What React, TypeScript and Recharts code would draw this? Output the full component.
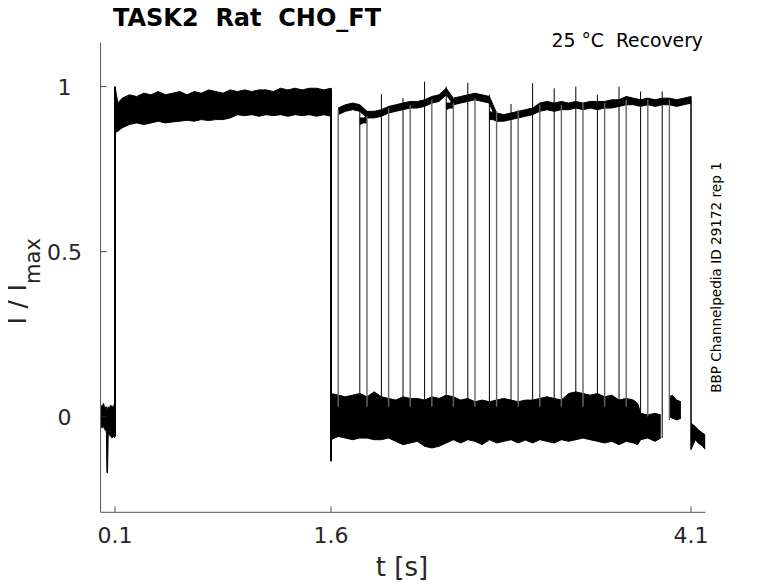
import React from 'react';
import { ComposedChart, Area, XAxis, YAxis, ReferenceLine } from 'recharts';

const xTicks = [0.1, 1.6, 4.1];
const yTicks = [0, 0.5, 1];

// [t, low, high] envelopes of the overlaid sweeps
const holding: [number, number, number][] = [
  [0, -0.02, 0.035], [0.01, -0.035, 0.03], [0.02, -0.03, 0.04], [0.03, -0.04, 0.025],
  [0.04, -0.045, 0.03], [0.044, -0.17, 0.02], [0.048, -0.17, 0.02], [0.053, -0.05, 0.03],
  [0.06, -0.055, 0.025], [0.07, -0.06, 0.035], [0.08, -0.065, 0.03], [0.09, -0.06, 0.03],
  [0.1, -0.065, 0.045],
];

const conditioning: [number, number, number][] = [
  [0.1, 0.86, 1.0], [0.12, 0.865, 0.95], [0.15, 0.875, 0.965], [0.2, 0.885, 0.975],
  [0.25, 0.89, 0.97], [0.3, 0.885, 0.98], [0.35, 0.89, 0.975], [0.4, 0.895, 0.985],
  [0.45, 0.89, 0.975], [0.5, 0.893, 0.98], [0.55, 0.895, 0.985], [0.6, 0.898, 0.975],
  [0.65, 0.895, 0.985], [0.7, 0.9, 0.98], [0.75, 0.897, 0.99], [0.8, 0.9, 0.985],
  [0.85, 0.9, 0.98], [0.9, 0.905, 0.99], [0.95, 0.915, 0.985], [1.0, 0.912, 0.99],
  [1.05, 0.915, 0.985], [1.1, 0.91, 0.99], [1.15, 0.915, 0.99], [1.2, 0.912, 0.985],
  [1.25, 0.915, 0.995], [1.3, 0.91, 0.99], [1.35, 0.915, 0.995], [1.4, 0.912, 0.99],
  [1.45, 0.915, 0.995], [1.5, 0.91, 0.995], [1.55, 0.915, 0.99], [1.6, 0.91, 0.995],
];

const testPulse: [number, number, number][] = [
  [1.65, 0.915, 0.935], [1.7, 0.925, 0.945], [1.75, 0.93, 0.95], [1.8, 0.925, 0.945],
  [1.85, 0.905, 0.925], [1.9, 0.905, 0.925], [1.95, 0.91, 0.93], [2.0, 0.92, 0.94],
  [2.05, 0.925, 0.945], [2.1, 0.93, 0.95], [2.15, 0.935, 0.955], [2.2, 0.935, 0.955],
  [2.25, 0.94, 0.96], [2.3, 0.95, 0.97], [2.35, 0.955, 0.975], [2.4, 0.975, 0.995],
  [2.45, 0.945, 0.965], [2.5, 0.95, 0.97], [2.55, 0.955, 0.975], [2.6, 0.96, 0.98],
  [2.65, 0.955, 0.975], [2.7, 0.95, 0.97], [2.75, 0.895, 0.92], [2.8, 0.895, 0.915],
  [2.85, 0.9, 0.92], [2.9, 0.905, 0.925], [2.95, 0.91, 0.93], [3.0, 0.915, 0.935],
  [3.05, 0.925, 0.95], [3.1, 0.93, 0.955], [3.15, 0.925, 0.95], [3.2, 0.93, 0.955],
  [3.25, 0.93, 0.95], [3.3, 0.935, 0.955], [3.35, 0.93, 0.95], [3.4, 0.935, 0.955],
  [3.45, 0.93, 0.955], [3.5, 0.935, 0.955], [3.55, 0.935, 0.96], [3.6, 0.94, 0.96],
  [3.65, 0.945, 0.97], [3.7, 0.945, 0.965], [3.75, 0.94, 0.96], [3.8, 0.945, 0.965],
  [3.85, 0.94, 0.96], [3.9, 0.945, 0.965], [3.95, 0.945, 0.965], [4.0, 0.94, 0.96],
  [4.05, 0.945, 0.965], [4.1, 0.95, 0.97],
];

const splitA: [number, number, number][] = [[1.8, 0.885, 0.905], [1.825, 0.89, 0.905], [1.85, 0.89, 0.91]];
const splitB: [number, number, number][] = [[2.4, 0.93, 0.95], [2.425, 0.935, 0.95], [2.45, 0.935, 0.955]];
const splitC: [number, number, number][] = [[2.7, 0.9, 0.925], [2.725, 0.9, 0.92], [2.75, 0.895, 0.92]];

const recoveryBase: [number, number, number][] = [
  [1.6, -0.07, 0.07], [1.65, -0.06, 0.065], [1.7, -0.065, 0.06], [1.75, -0.07, 0.065],
  [1.8, -0.065, 0.07], [1.85, -0.065, 0.06], [1.9, -0.07, 0.075], [1.95, -0.07, 0.06],
  [2.0, -0.065, 0.055], [2.05, -0.075, 0.05], [2.1, -0.085, 0.06], [2.15, -0.08, 0.055],
  [2.2, -0.075, 0.055], [2.25, -0.09, 0.05], [2.3, -0.095, 0.06], [2.35, -0.09, 0.055],
  [2.4, -0.08, 0.065], [2.45, -0.07, 0.06], [2.5, -0.08, 0.05], [2.55, -0.07, 0.055],
  [2.6, -0.075, 0.045], [2.65, -0.085, 0.05], [2.7, -0.07, 0.045], [2.75, -0.08, 0.05],
  [2.8, -0.075, 0.055], [2.85, -0.07, 0.05], [2.9, -0.08, 0.045], [2.95, -0.071, 0.05],
  [3.0, -0.08, 0.05], [3.05, -0.07, 0.055], [3.1, -0.075, 0.06], [3.15, -0.08, 0.055],
  [3.2, -0.07, 0.05], [3.25, -0.075, 0.07], [3.3, -0.07, 0.075], [3.35, -0.065, 0.07],
  [3.4, -0.07, 0.065], [3.45, -0.075, 0.07], [3.5, -0.08, 0.06], [3.55, -0.075, 0.065],
  [3.6, -0.085, 0.05], [3.65, -0.075, 0.055], [3.7, -0.08, 0.05], [3.73, -0.085, 0.04],
  [3.75, -0.07, 0.01], [3.8, -0.065, 0.005], [3.85, -0.075, 0.01], [3.89, -0.065, 0.005],
];

const lateBase: [number, number, number][] = [
  [3.95, 0.0, 0.06], [3.97, -0.005, 0.065], [4.0, -0.01, 0.05], [4.03, -0.005, 0.045],
];

const tail: [number, number, number][] = [
  [4.1, -0.1, -0.02], [4.13, -0.07, -0.03], [4.15, -0.08, -0.04], [4.18, -0.09, -0.05], [4.2, -0.1, -0.055],
];

// test pulse onsets: [t, bottom, top]
const onsets: [number, number, number][] = [
  [1.65, 0.03, 0.93], [1.8, 0.03, 0.94], [1.85, 0.03, 0.91], [1.95, 0.03, 0.977],
  [2.0, 0.03, 0.935], [2.1, 0.03, 0.965], [2.15, 0.03, 0.944], [2.25, 0.03, 1.015],
  [2.3, 0.03, 0.96], [2.4, 0.03, 1.0], [2.45, 0.03, 0.95], [2.55, 0.03, 1.012],
  [2.6, 0.03, 0.965], [2.7, 0.03, 0.975], [2.75, 0.03, 0.925], [2.85, 0.03, 0.947],
  [2.9, 0.03, 0.93], [3.0, 0.03, 1.01], [3.05, 0.03, 0.945], [3.15, 0.03, 0.995],
  [3.2, 0.03, 0.945], [3.3, 0.03, 1.0], [3.35, 0.03, 0.95], [3.45, 0.03, 0.975],
  [3.5, 0.03, 0.95], [3.6, 0.03, 1.0], [3.65, 0.03, 0.96], [3.75, 0.0, 0.985],
  [3.8, 0.0, 0.96], [3.9, -0.065, 0.985], [3.95, -0.01, 0.96],
];

// step edges: [t, from, to]
const steps: [number, number, number][] = [
  [0.1, -0.06, 1.0], [1.6, 0.995, -0.135], [4.1, 0.97, -0.1],
];

const toRows = (rows: [number, number, number][]) => rows.map(([t, lo, hi]) => ({ t, lo, hi }));
const range = (d: { lo: number; hi: number }) => [d.lo, d.hi];

const ink = '#000';
const axisColor = '#262626';
const font = 'DejaVu Sans, sans-serif';

const XTick = (props: any) => {
  const { x, y, payload } = props;
  return (
    <g>
      <line x1={x} x2={x} y1={y} y2={y - 6} stroke={axisColor} strokeWidth={0.8} />
      <text x={x} y={y + 30.4} textAnchor="middle" fontSize={22} fontFamily={font} fill={axisColor}>
        {String(payload.value)}
      </text>
    </g>
  );
};

const YTick = (props: any) => {
  const { x, y, payload } = props;
  return (
    <g>
      <line x1={x} x2={x + 6} y1={y} y2={y} stroke={axisColor} strokeWidth={0.8} />
      <text x={x - 36} y={y + 8} textAnchor="middle" fontSize={22} fontFamily={font} fill={axisColor}>
        {String(payload.value)}
      </text>
    </g>
  );
};

const bands = [holding, conditioning, testPulse, splitA, splitB, splitC, recoveryBase, lateBase, tail];

export default function App() {
  const W = 770;
  const H = 575;
  return (
    <div style={{ position: 'relative', width: W, height: H }}>
      <ComposedChart width={W} height={H} margin={{ top: 34.7, right: 72.6, bottom: 30.7, left: 32.6 }}>
        <XAxis
          type="number"
          dataKey="t"
          domain={[0, 4.2]}
          ticks={xTicks}
          interval={0}
          allowDataOverflow
          tickSize={0}
          tickMargin={0}
          tickLine={false}
          tick={(p: any) => <XTick {...p} />}
          axisLine={{ stroke: '#555', strokeWidth: 1 }}
          height={40}
        />
        <YAxis
          type="number"
          domain={[-0.29, 1.133]}
          ticks={yTicks}
          interval={0}
          allowDataOverflow
          tickSize={0}
          tickMargin={0}
          tickLine={false}
          tick={(p: any) => <YTick {...p} />}
          axisLine={{ stroke: '#555', strokeWidth: 1 }}
          width={60}
        />
        {bands.map((b, i) => (
          <Area
            key={'band' + i}
            data={toRows(b)}
            dataKey={range}
            type="linear"
            stroke={ink}
            strokeWidth={1}
            fill={ink}
            fillOpacity={1}
            dot={false}
            activeDot={false}
            isAnimationActive={false}
          />
        ))}
        {steps.map(([t, a, b], i) => (
          <ReferenceLine
            key={'step' + i}
            segment={[{ x: t, y: a }, { x: t, y: b }]}
            stroke={ink}
            strokeWidth={i === 2 ? 1.5 : 2}
          />
        ))}
        {onsets.map(([t, lo, hi], i) => (
          <ReferenceLine
            key={'on' + i}
            segment={[{ x: t, y: lo }, { x: t, y: hi }]}
            stroke={i % 2 === 0 ? '#666' : ink}
            strokeWidth={i % 2 === 0 ? 1.4 : 1}
          />
        ))}
      </ComposedChart>
      <svg width={W + 8} height={H + 8} style={{ position: 'absolute', left: -8, top: -8, pointerEvents: 'none' }}>
        <text x={113} y={26} fontSize={24} fontWeight="bold" fontFamily={font} fill="#000" style={{ whiteSpace: 'pre' }}>
          {'TASK2  Rat  CHO_FT'}
        </text>
        <text x={703} y={46.7} textAnchor="end" fontSize={18.8} fontFamily={font} fill="#000" style={{ whiteSpace: 'pre' }}>
          {'25 °C  Recovery'}
        </text>
        <text
          transform="translate(721, 277.5) rotate(-90)"
          textAnchor="middle"
          fontSize={13.6}
          fontFamily={font}
          fill="#000"
        >
          BBP Channelpedia ID 29172 rep 1
        </text>
        <text x={402} y={576} textAnchor="middle" fontSize={26} fontFamily={font} fill={axisColor}>
          t [s]
        </text>
        <text transform="translate(26, 324.5) rotate(-90)" fontSize={26} fontFamily={font} fill={axisColor} style={{ whiteSpace: 'pre' }}>
          {'I / I'}
          <tspan fontSize={21} dy={14}>max</tspan>
        </text>
      </svg>
    </div>
  );
}
